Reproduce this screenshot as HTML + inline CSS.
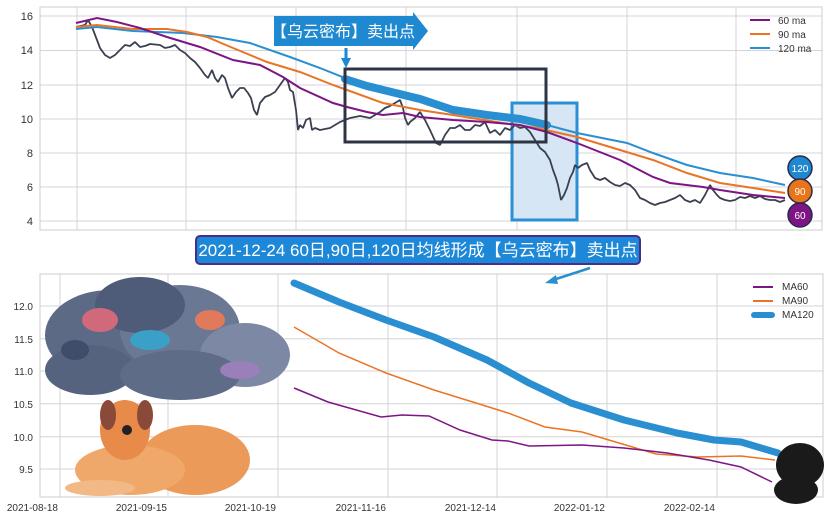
<!DOCTYPE html>
<html><head><meta charset="utf-8"><style>
html,body{margin:0;padding:0;background:#fff;}
svg{display:block;font-family:"Liberation Sans","Noto Sans CJK SC",sans-serif;}
</style></head><body>
<svg width="828" height="520" viewBox="0 0 828 520" xmlns="http://www.w3.org/2000/svg">
<rect width="828" height="520" fill="#fff"/>
<!-- TOP CHART -->
<g stroke="#d4d4d8" stroke-width="1">
<line x1="40" y1="16" x2="822" y2="16"/><line x1="40" y1="50.5" x2="822" y2="50.5"/><line x1="40" y1="85" x2="822" y2="85"/><line x1="40" y1="119" x2="822" y2="119"/><line x1="40" y1="153" x2="822" y2="153"/><line x1="40" y1="187" x2="822" y2="187"/><line x1="40" y1="221" x2="822" y2="221"/>
<line x1="77" y1="7" x2="77" y2="230"/><line x1="186" y1="7" x2="186" y2="230"/><line x1="296" y1="7" x2="296" y2="230"/><line x1="406" y1="7" x2="406" y2="230"/><line x1="517" y1="7" x2="517" y2="230"/><line x1="627" y1="7" x2="627" y2="230"/><line x1="736" y1="7" x2="736" y2="230"/>
</g>
<rect x="40" y="7" width="782" height="223" fill="none" stroke="#ccc"/>
<g font-size="11" fill="#333" text-anchor="end">
<text x="33" y="20">16</text><text x="33" y="54">14</text><text x="33" y="89">12</text><text x="33" y="123">10</text><text x="33" y="157">8</text><text x="33" y="191">6</text><text x="33" y="225">4</text>
</g>
<rect x="512" y="103" width="65" height="117" fill="#d6e6f4" stroke="#2a8fd4" stroke-width="3"/>
<polyline fill="none" stroke="#3b4050" stroke-width="1.8" stroke-linejoin="bevel" points="76,27 85,25 88,20 92,27 97,40 100,48 105,55 110,58 115,55 120,50 125,45 130,46 135,42 140,47 145,46 150,44 160,45 165,48 170,47 175,45 180,50 185,53 190,58 195,62 200,68 205,75 208,78 212,70 215,78 218,82 222,75 225,78 228,88 232,98 236,92 240,88 244,88 248,93 251,98 254,110 257,115 260,103 265,97 270,95 275,92 280,85 285,78 288,82 290,90 293,92 296,110 298,130 300,125 303,128 306,120 310,118 312,130 315,128 320,130 325,129 330,128 335,125 340,122 345,120 350,118 355,117 360,116 365,117 370,118 375,115 380,112 385,108 390,106 395,103 400,100 403,108 405,118 408,125 410,122 415,118 420,112 425,120 430,130 436,143 440,145 445,135 450,128 455,128 460,125 465,130 470,130 475,125 480,126 485,122 490,133 495,130 500,135 505,128 510,130 515,125 520,128 525,127 530,132 535,140 540,148 545,152 550,160 553,170 556,178 558,185 561,200 564,195 567,188 570,178 573,172 575,165 578,168 582,165 587,163 590,170 595,178 600,180 605,178 610,182 615,185 620,186 625,183 630,185 635,190 640,198 645,200 650,203 655,205 660,203 665,202 670,200 675,198 680,195 685,200 690,202 695,200 700,203 705,195 710,185 713,190 717,195 720,198 725,200 730,201 735,200 740,197 745,198 750,196 755,198 760,196 765,199 770,200 775,200 780,202 785,200"/>
<polyline fill="none" stroke="#2a8fd0" stroke-width="2" points="76,29 97,27 133,31 183,33 217,37 250,43 290,57 320,68 345,78 367,85 420,98 453,110 487,115 520,119 547,125 577,133 627,143 653,153 687,165 720,173 753,178 785,185"/>
<polyline fill="none" stroke="#2a8fd0" stroke-width="8" stroke-linecap="round" points="345,79 367,86 420,99 453,110 487,115 520,119 547,125"/>
<polyline fill="none" stroke="#ea7424" stroke-width="2" points="76,27 97,25 133,29 167,29 187,32 207,37 233,48 267,62 300,72 333,85 347,90 383,103 420,110 453,115 503,123 537,128 577,137 620,150 653,160 687,173 720,183 753,188 785,193"/>
<polyline fill="none" stroke="#7d1585" stroke-width="2" points="76,23 97,18 117,22 140,28 167,37 200,47 233,60 260,65 283,77 300,88 333,103 347,107 367,112 383,115 403,113 420,117 453,120 487,122 520,125 547,132 577,143 620,160 653,177 670,183 703,187 720,190 753,195 785,198"/>
<rect x="345" y="69" width="201" height="73" fill="none" stroke="#2e3445" stroke-width="3"/>
<!-- banner 1 -->
<polygon points="274,16 413,16 413,12 428,31 413,50 413,46 274,46" fill="#1e88d0"/>
<text x="343" y="37" font-size="16" fill="#fff" text-anchor="middle">【乌云密布】卖出点</text>
<line x1="346" y1="48" x2="346" y2="60" stroke="#1e88d0" stroke-width="3"/>
<polygon points="341,58 351,58 346,68" fill="#1e88d0"/>
<!-- legend top -->
<g font-size="10" fill="#333">
<line x1="750" y1="20" x2="770" y2="20" stroke="#7d1585" stroke-width="2"/><text x="778" y="24">60 ma</text>
<line x1="750" y1="34" x2="770" y2="34" stroke="#ea7424" stroke-width="2"/><text x="778" y="38">90 ma</text>
<line x1="750" y1="48" x2="770" y2="48" stroke="#2a8fd0" stroke-width="2"/><text x="778" y="52">120 ma</text>
</g>
<g font-size="10" fill="#fff" text-anchor="middle" stroke-width="1.5">
<circle cx="800" cy="168" r="12" fill="#1f88d0" stroke="#2a2a50"/><text x="800" y="172" stroke="none">120</text>
<circle cx="800" cy="191" r="12" fill="#e8751a" stroke="#2a2a50"/><text x="800" y="195" stroke="none">90</text>
<circle cx="800" cy="215" r="12" fill="#7d1585" stroke="#2a2a50"/><text x="800" y="219" stroke="none">60</text>
</g>
<!-- BOTTOM CHART -->
<g stroke="#d4d4d8" stroke-width="1">
<line x1="40" y1="306" x2="823" y2="306"/><line x1="40" y1="338.7" x2="823" y2="338.7"/><line x1="40" y1="371" x2="823" y2="371"/><line x1="40" y1="403.7" x2="823" y2="403.7"/><line x1="40" y1="436.7" x2="823" y2="436.7"/><line x1="40" y1="469" x2="823" y2="469"/>
<line x1="60" y1="274" x2="60" y2="497"/><line x1="168" y1="274" x2="168" y2="497"/><line x1="278" y1="274" x2="278" y2="497"/><line x1="388" y1="274" x2="388" y2="497"/><line x1="497" y1="274" x2="497" y2="497"/><line x1="607" y1="274" x2="607" y2="497"/><line x1="717" y1="274" x2="717" y2="497"/>
</g>
<rect x="40" y="274" width="783" height="223" fill="none" stroke="#ccc"/>
<g font-size="10" fill="#333" text-anchor="end">
<text x="33" y="310">12.0</text><text x="33" y="343">11.5</text><text x="33" y="375">11.0</text><text x="33" y="408">10.5</text><text x="33" y="441">10.0</text><text x="33" y="473">9.5</text>
</g>
<g font-size="10" fill="#333" text-anchor="end">
<text x="58" y="511">2021-08-18</text><text x="167" y="511">2021-09-15</text><text x="276" y="511">2021-10-19</text><text x="386" y="511">2021-11-16</text><text x="496" y="511">2021-12-14</text><text x="605" y="511">2022-01-12</text><text x="715" y="511">2022-02-14</text>
</g>
<polyline fill="none" stroke="#2a8fd0" stroke-width="7" stroke-linecap="round" stroke-linejoin="round" points="294,283 339,302 386,320 434,337 487,360 529,383 571,403 624,420 677,433 714,440 741,442 778,453"/>
<polyline fill="none" stroke="#ea7424" stroke-width="1.5" points="294,327 339,353 386,373 434,390 476,403 508,413 545,427 582,432 619,443 656,454 698,457 741,456 775,460"/>
<polyline fill="none" stroke="#7d1585" stroke-width="1.5" points="294,388 328,402 381,417 402,415 429,416 460,430 492,440 508,441 529,446 582,445 624,448 667,453 709,460 741,467 772,482"/>
<g font-size="10" fill="#333">
<line x1="753" y1="287" x2="773" y2="287" stroke="#7d1585" stroke-width="2"/><text x="782" y="290">MA60</text>
<line x1="753" y1="301" x2="773" y2="301" stroke="#ea7424" stroke-width="2"/><text x="782" y="304">MA90</text>
<line x1="754" y1="315" x2="772" y2="315" stroke="#2a8fd0" stroke-width="6" stroke-linecap="round"/><text x="782" y="318">MA120</text>
</g>
<!-- cloud -->
<g>
<ellipse cx="110" cy="335" rx="65" ry="45" fill="#5d6a86"/>
<ellipse cx="180" cy="330" rx="60" ry="45" fill="#6a7893"/>
<ellipse cx="140" cy="305" rx="45" ry="28" fill="#4e5c7a"/>
<ellipse cx="245" cy="355" rx="45" ry="32" fill="#7d89a4"/>
<ellipse cx="90" cy="370" rx="45" ry="25" fill="#56637f"/>
<ellipse cx="180" cy="375" rx="60" ry="25" fill="#5e6c88"/>
<ellipse cx="100" cy="320" rx="18" ry="12" fill="#d06a7a"/>
<ellipse cx="150" cy="340" rx="20" ry="10" fill="#3aa0c8"/>
<ellipse cx="210" cy="320" rx="15" ry="10" fill="#e07a5a"/>
<ellipse cx="240" cy="370" rx="20" ry="9" fill="#9a7fb8"/>
<ellipse cx="75" cy="350" rx="14" ry="10" fill="#3f4d6a"/>
</g>
<!-- dog -->
<g>
<ellipse cx="195" cy="460" rx="55" ry="35" fill="#ec9a5a"/>
<ellipse cx="130" cy="470" rx="55" ry="25" fill="#f0a86a"/>
<ellipse cx="125" cy="430" rx="25" ry="30" fill="#e88a4a"/>
<ellipse cx="100" cy="488" rx="35" ry="8" fill="#f2b885"/>
<ellipse cx="108" cy="415" rx="8" ry="15" fill="#8a4a3a"/>
<ellipse cx="145" cy="415" rx="8" ry="15" fill="#8a4a3a"/>
<circle cx="127" cy="430" r="5" fill="#222"/>
</g>
<!-- storm cloud -->
<g fill="#1a1a1a">
<ellipse cx="800" cy="465" rx="24" ry="22"/>
<ellipse cx="796" cy="490" rx="22" ry="14"/>
</g>
<!-- banner 2 -->
<rect x="196" y="236" width="444" height="28" rx="4" fill="#1e88d8" stroke="#4a2d8a" stroke-width="2"/>
<text x="418" y="256" font-size="17" fill="#fff" text-anchor="middle">2021-12-24 60日,90日,120日均线形成【乌云密布】卖出点</text>
<line x1="590" y1="268" x2="553" y2="280" stroke="#2a8fd0" stroke-width="2.5"/>
<polygon points="545,283 556,275 558,284" fill="#2a8fd0"/>
</svg>
</body></html>
